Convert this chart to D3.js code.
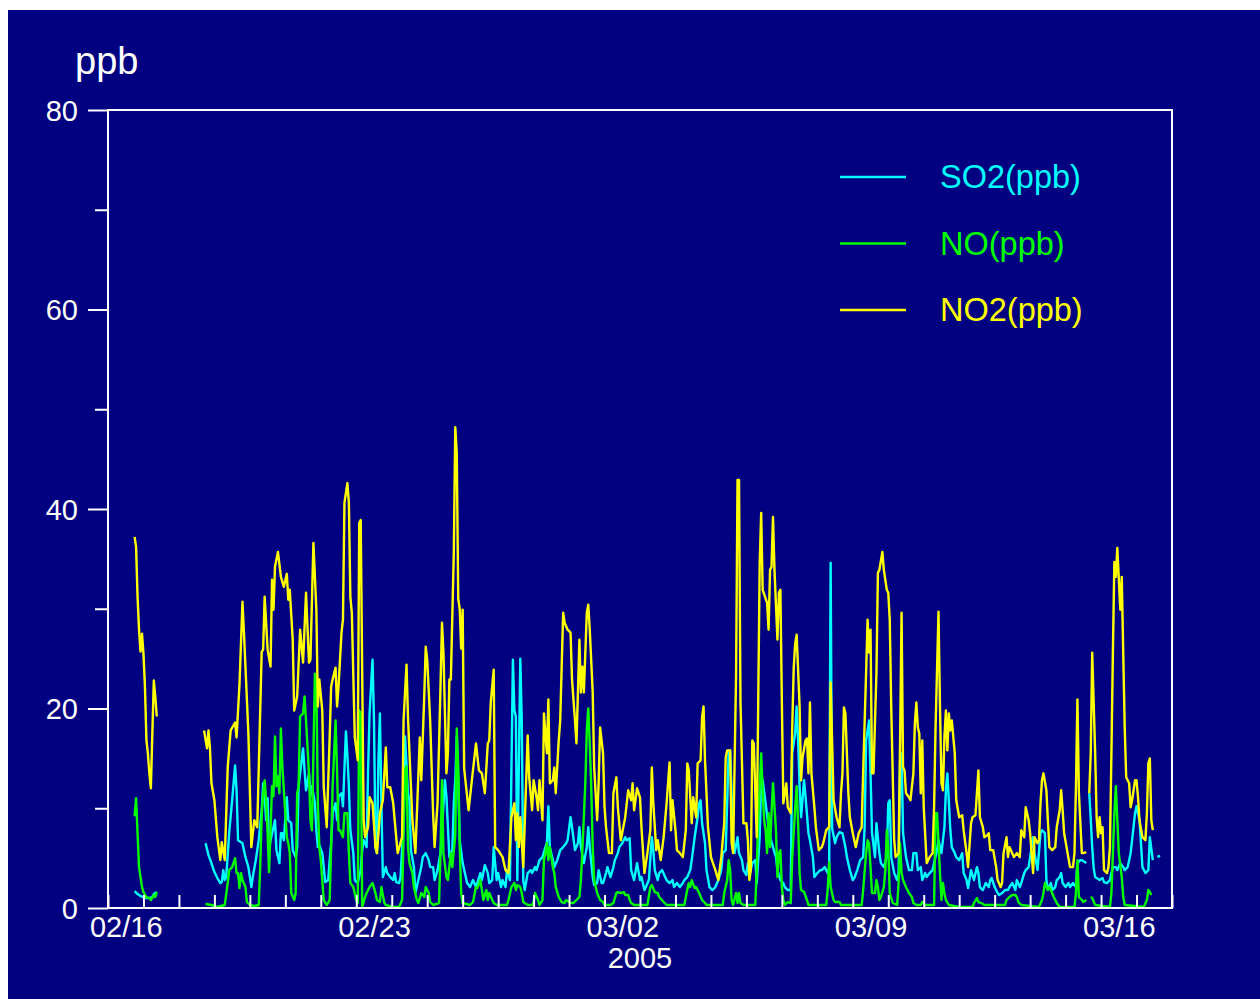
<!DOCTYPE html>
<html><head><meta charset="utf-8">
<script src="https://cdn.jsdelivr.net/npm/d3@7"></script>
<style>body{margin:0;background:#fff}svg{display:block}</style>
</head><body><svg id="chart" width="1260" height="999"></svg>
<script>
// ---- data (hours since 2005-02-16 00:00, value in ppb; null = missing) ----
const startDate = Date.UTC(2005, 1, 16, 0, 0);
const endDate = Date.UTC(2005, 2, 18, 0, 0);
const dateLabels = ["02/16", "02/23", "03/02", "03/09", "03/16"];
const labelDays = [0, 7, 14, 21, 28];
const yearLabel = "2005";
const yTicksMajor = [0, 20, 40, 60, 80];
const yTicksMinor = [10, 30, 50, 70];
const unitLabel = "ppb";
const seriesNames = ["SO2(ppb)", "NO(ppb)", "NO2(ppb)"];
const seriesColors = ["#00ffff", "#00ff00", "#ffff00"];

const so2 = [[18,1.7],[20,1.4],[22,1.2],[24,1.1],[26,1.0],[28,1.0],[30,1.1],[31,1.4],[33,1.6],[34,null],
[66,6.5],[68,5.3],[70,4.5],[72,3.6],[74,3.0],[76,2.5],[77,2.6],[78,3.8],[79,2.8],[80,3.1],[82,7.5],[84,10.8],[86,14.3],[87,11.8],[88,6.8],[90,6.6],[91,6.5],[93,5.1],[95,4.1],[97,2.1],[98,3.1],[100,4.8],[102,6.8],[104,9.8],[105,12.5],[106,11.2],[107,8.8],[108,11.0],[109,5.8],[110,6.8],[113,8.8],[114,5.8],[116,4.5],[117,7.5],[118,7.5],[119,6.8],[121,11.1],[122,8.8],[124,8.5],[125,5.8],[127,5.1],[128,6.1],[129,12.2],[130,13.5],[132,16.0],[133,13.8],[134,11.8],[136,13.5],[137,11.2],[138,12.2],[140,10.5],[141,7.8],[142,6.1],[143,6.3],[145,5.5],[146,4.1],[147,2.6],[149,2.8],[150,4.8],[151,6.5],[152,9.5],[154,10.5],[155,8.8],[156,11.2],[158,11.5],[159,10.2],[161,17.7],[162,15.2],[163,12.2],[164,7.8],[166,5.5],[167,2.8],[169,2.5],[171,3.8],[172,5.8],[173,6.8],[175,6.1],[176,13.8],[177,19.5],[179,24.9],[180,18.8],[181,6.1],[182,5.5],[183,14.8],[184,19.5],[185,10.5],[186,3.1],[188,4.1],[189,3.5],[191,3.1],[193,2.8],[194,3.5],[195,2.6],[197,2.5],[198,3.1],[200,8.8],[201,17.2],[203,11.5],[204,10.8],[205,5.8],[207,4.1],[208,1.5],[210,2.8],[212,4.1],[213,5.1],[215,5.5],[217,4.8],[218,4.1],[220,4.1],[221,2.8],[223,3.8],[225,5.5],[226,7.8],[228,12.8],[229,11.2],[231,5.1],[233,5.8],[234,10.5],[235,12.8],[236,17.2],[237,12.8],[238,6.8],[240,4.5],[243,2.5],[245,2.1],[247,2.8],[249,2.1],[252,3.5],[253,2.8],[255,4.3],[257,3.5],[258,2.5],[260,2.8],[261,6.1],[263,2.8],[264,3.5],[266,2.1],[267,2.8],[269,2.1],[270,3.8],[272,2.8],[273,13.8],[274,24.9],[275,19.8],[276,19.2],[277,2.8],[278,14.2],[279,25.0],[280,18.8],[281,2.8],[282,1.8],[284,3.5],[286,3.8],[287,3.5],[289,4.1],[290,3.8],[292,4.8],[294,5.1],[296,6.1],[297,6.5],[298,10.2],[299,6.1],[301,4.8],[302,4.1],[304,4.8],[306,5.8],[308,6.1],[310,6.5],[311,6.8],[313,9.1],[314,8.1],[316,5.8],[318,6.5],[319,8.1],[320,6.1],[322,4.5],[324,6.1],[325,8.1],[326,6.1],[328,3.1],[329,2.3],[331,2.5],[332,3.8],[334,2.5],[335,2.5],[337,3.5],[338,4.1],[340,3.1],[342,4.1],[343,4.8],[345,5.5],[346,6.1],[348,6.5],[350,7.1],[351,6.8],[353,7.0],[354,3.8],[356,2.8],[358,4.5],[360,2.8],[361,3.1],[363,1.8],[364,2.1],[366,2.8],[368,7.1],[369,5.8],[370,3.8],[372,2.8],[373,3.5],[375,3.8],[377,3.1],[378,2.8],[380,2.5],[382,2.8],[383,2.1],[385,2.5],[387,2.1],[389,2.5],[390,2.8],[392,3.1],[394,3.8],[395,4.8],[397,7.1],[399,9.1],[400,10.5],[401,10.8],[402,8.5],[404,6.5],[405,3.8],[407,2.1],[409,1.8],[411,2.1],[413,2.8],[415,3.8],[416,5.5],[418,5.8],[420,15.5],[421,15.8],[423,7.1],[424,5.5],[426,7.1],[427,5.5],[429,4.8],[430,3.8],[432,3.3],[433,4.5],[435,3.8],[436,4.5],[438,4.8],[439,2.5],[441,7.1],[442,13.2],[443,12.8],[445,10.5],[447,8.1],[448,7.1],[450,6.1],[452,5.1],[453,3.8],[455,2.8],[457,2.5],[458,2.1],[460,1.8],[462,1.8],[463,15.5],[465,17.5],[466,20.2],[467,16.8],[468,12.2],[469,9.1],[471,12.8],[472,11.2],[474,7.5],[475,6.8],[477,5.1],[478,3.1],[480,3.5],[482,3.8],[483,3.8],[485,4.1],[487,3.5],[488,4.0],[489,34.6],[490,8.0],[492,6.5],[493,7.1],[495,7.6],[497,7.5],[499,6.1],[500,5.1],[502,3.8],[504,2.8],[505,3.0],[507,3.8],[509,4.8],[511,5.1],[512,8.1],[513,16.8],[515,18.8],[516,13.5],[517,7.5],[519,5.1],[520,8.5],[522,5.5],[523,4.5],[525,4.1],[527,5.1],[528,10.5],[529,10.8],[530,5.1],[532,3.5],[534,2.8],[535,3.5],[536,14.5],[537,15.5],[538,7.5],[540,5.1],[542,3.8],[544,3.8],[545,5.5],[547,5.5],[548,3.8],[550,4.1],[551,2.8],[553,3.5],[554,3.1],[556,3.5],[558,3.8],[559,4.5],[561,5.8],[562,6.8],[564,5.5],[566,8.1],[567,11.8],[568,13.5],[570,7.8],[571,6.1],[573,5.5],[574,5.1],[576,4.8],[578,5.5],[579,3.5],[581,2.8],[582,2.0],[584,3.8],[586,2.8],[588,4.1],[589,3.5],[590,2.1],[592,1.8],[594,2.5],[596,2.1],[597,2.8],[598,3.0],[600,2.1],[602,1.5],[603,1.3],[605,1.5],[607,1.8],[609,1.8],[610,2.1],[612,2.5],[614,1.8],[615,2.8],[617,2.1],[618,2.5],[620,3.5],[621,3.8],[623,4.1],[624,5.1],[626,7.1],[627,5.5],[629,3.8],[631,7.5],[632,7.8],[634,7.5],[635,2.8],[636,1.8],[638,2.5],[639,1.8],[641,2.1],[642,2.8],[644,3.1],[645,3.5],[646,2.5],[648,2.1],[650,2.5],[651,2.1],[653,2.5],[655,2.1],[656,4.5],[658,4.8],[659,4.8],[662,4.5],[663,null],
[664,11.5],[665,9.0],[666,6.1],[667,4.0],[668,3.1],[671,2.8],[673,3.0],[674,2.6],[676,2.5],[678,2.8],[679,3.5],[680,4.1],[682,4.1],[683,3.8],[685,4.5],[687,4.1],[688,3.8],[690,4.1],[692,5.5],[693,6.8],[695,9.5],[696,10.2],[698,8.8],[699,6.5],[700,4.1],[702,3.5],[704,3.8],[705,7.1],[707,4.8],[708,null],[711,5.2]];

const no = [[18,9.2],[19,11.0],[20,7.5],[21,4.1],[23,2.1],[24,1.6],[26,1.1],[28,1.0],[29,0.8],[31,1.3],[32,1.1],[33,1.6],[34,null],
[66,0.4],[70,0.3],[74,0.1],[79,0.3],[81,2.5],[82,3.8],[84,4.1],[86,5.0],[87,3.5],[88,3.5],[89,2.0],[90,3.5],[91,2.8],[93,2.1],[94,0.6],[96,0.3],[99,0.2],[102,0.3],[103,4.1],[104,9.2],[105,11.5],[106,12.8],[107,10.8],[108,7.5],[109,3.6],[111,12.2],[112,11.2],[113,17.2],[114,12.2],[115,13.2],[116,11.5],[117,18.0],[118,14.2],[119,11.8],[121,7.1],[122,6.5],[123,5.5],[124,1.5],[126,0.8],[127,1.5],[128,11.5],[129,12.2],[130,19.2],[132,19.5],[133,21.2],[134,18.8],[136,13.5],[137,8.8],[138,7.8],[139,15.5],[140,23.5],[141,22.2],[142,10.5],[143,6.1],[144,4.8],[145,2.8],[146,0.8],[148,0.3],[150,0.8],[151,6.1],[152,12.2],[153,15.5],[154,18.8],[155,13.8],[156,7.8],[157,7.8],[159,7.1],[160,9.5],[162,9.5],[163,5.5],[164,2.5],[166,2.1],[168,0.8],[169,0.5],[170,19.8],[171,19.5],[172,0.1],[174,1.1],[175,1.5],[177,2.1],[179,2.5],[181,1.5],[182,0.8],[184,0.6],[185,2.1],[187,0.5],[188,0.3],[193,0.1],[197,0.1],[199,0.8],[201,13.8],[202,14.2],[203,6.1],[204,4.5],[206,3.5],[207,2.1],[209,0.8],[210,0.5],[212,1.5],[214,1.1],[215,2.1],[217,1.5],[218,0.6],[220,0.3],[224,0.5],[225,5.5],[226,12.8],[227,5.5],[229,3.1],[230,2.8],[232,5.5],[233,4.1],[235,7.3],[236,18.0],[237,14.2],[238,6.1],[239,1.5],[240,0.5],[245,0.3],[247,0.6],[249,2.1],[250,2.0],[252,2.8],[253,1.8],[254,0.8],[256,1.8],[257,0.8],[258,1.5],[260,0.8],[261,0.5],[263,0.3],[270,0.3],[271,0.8],[273,2.1],[275,2.5],[276,1.8],[277,2.3],[279,2.1],[280,1.5],[281,0.6],[284,0.3],[287,0.3],[288,0.6],[289,1.5],[291,0.8],[292,0.3],[294,0.8],[295,4.8],[296,5.5],[297,6.5],[298,4.8],[299,6.1],[301,4.1],[302,3.5],[303,2.1],[305,1.1],[307,0.6],[309,0.5],[310,0.8],[312,0.6],[314,0.5],[315,0.5],[317,0.8],[319,1.1],[320,2.8],[321,5.8],[323,12.5],[324,17.8],[325,20.0],[326,16.5],[327,12.2],[328,6.1],[329,2.8],[331,1.5],[333,0.8],[335,0.6],[336,0.3],[340,0.3],[342,0.5],[344,1.5],[345,1.6],[347,1.5],[349,1.6],[350,1.3],[352,1.3],[353,0.8],[354,0.5],[356,0.3],[365,0.3],[367,2.1],[368,2.3],[370,1.6],[372,1.5],[373,1.1],[376,0.6],[378,0.3],[390,0.3],[391,1.1],[393,2.5],[394,2.1],[395,2.8],[397,2.0],[398,2.1],[400,1.5],[402,0.8],[404,0.5],[405,0.3],[416,0.3],[417,1.5],[419,2.8],[420,4.8],[421,3.8],[422,0.8],[423,0.3],[425,1.5],[426,0.5],[427,1.5],[428,0.5],[430,0.3],[438,0.3],[439,3.8],[440,8.8],[442,15.5],[443,11.8],[444,8.8],[445,7.8],[446,5.5],[447,9.5],[448,6.1],[449,9.5],[450,12.5],[452,7.8],[453,3.1],[454,5.5],[455,5.8],[456,2.1],[457,0.8],[458,0.3],[460,0.6],[462,0.5],[463,5.0],[465,10.0],[466,12.2],[467,8.5],[468,3.5],[469,1.8],[471,1.6],[473,0.8],[474,0.3],[486,0.3],[487,1.8],[488,4.6],[489,2.1],[491,0.8],[492,0.6],[495,0.6],[496,0.3],[510,0.3],[511,1.8],[513,5.5],[514,6.8],[515,6.5],[516,4.1],[517,1.5],[519,1.5],[520,2.8],[521,2.1],[522,0.8],[523,1.1],[525,2.1],[526,3.8],[527,7.8],[528,6.1],[529,1.5],[531,0.5],[534,0.3],[535,2.5],[536,6.5],[537,3.5],[538,2.8],[540,2.1],[542,1.5],[544,1.1],[545,0.5],[547,0.3],[550,0.3],[551,0.6],[553,0.3],[559,0.3],[560,9.5],[561,9.5],[563,3.5],[564,0.8],[565,2.5],[566,1.5],[567,0.8],[569,0.3],[576,0.1],[585,0.1],[586,0.5],[588,1.0],[589,0.6],[591,0.5],[593,0.3],[607,0.3],[608,0.8],[610,1.1],[612,1.3],[614,1.3],[615,1.1],[616,0.6],[618,0.3],[630,0.1],[632,0.8],[633,1.5],[634,2.5],[636,1.8],[637,2.1],[638,1.8],[640,1.1],[642,0.5],[644,0.1],[654,0.1],[655,1.5],[656,4.8],[657,1.1],[659,0.8],[660,0.6],[662,0.8],[663,null],
[665,1.1],[666,1.0],[668,0.3],[678,0.1],[679,1.5],[680,5.5],[681,9.5],[682,12.2],[683,8.8],[684,5.5],[686,3.1],[687,1.1],[688,0.3],[701,0.1],[703,0.8],[704,1.8],[705,1.6],[706,1.3]];

const no2 = [[18,37.2],[19,36.2],[20,31.2],[21,27.9],[22,25.7],[23,27.5],[24,25.5],[25,22.2],[26,16.8],[27,15.5],[28,13.5],[29,12.0],[30,17.5],[31,22.8],[32,21.2],[33,19.2],[34,null],
[65,17.8],[67,16.0],[68,17.8],[69,16.0],[70,12.5],[72,10.8],[74,7.1],[76,4.8],[77,6.6],[79,4.8],[81,14.1],[83,17.8],[86,18.6],[87,17.1],[89,22.5],[91,30.7],[92,27.6],[95,17.5],[97,6.1],[99,8.8],[101,8.1],[104,25.7],[105,25.9],[106,31.2],[108,25.9],[110,24.2],[111,32.9],[112,29.9],[113,34.2],[115,35.7],[117,33.2],[119,32.2],[121,33.5],[122,30.9],[123,31.9],[125,26.9],[126,19.8],[128,21.2],[130,27.9],[132,24.6],[134,31.6],[136,24.6],[137,24.9],[139,36.6],[141,29.9],[142,20.2],[143,22.9],[145,19.8],[146,12.1],[148,8.1],[150,17.1],[151,22.2],[152,22.9],[154,24.1],[155,20.2],[156,22.2],[158,27.6],[159,28.9],[160,40.6],[162,42.6],[163,40.6],[164,31.2],[165,29.6],[167,17.1],[169,14.8],[170,38.6],[171,38.9],[173,8.8],[174,7.1],[176,8.1],[177,11.1],[179,10.5],[181,6.1],[182,5.5],[184,9.5],[186,10.8],[188,16.1],[189,12.1],[191,12.1],[193,10.5],[194,8.8],[196,5.5],[199,7.1],[200,18.8],[202,24.4],[203,19.1],[205,12.1],[206,8.8],[208,5.5],[211,17.1],[212,12.8],[214,21.2],[215,26.2],[216,24.9],[218,18.8],[220,9.5],[221,6.1],[223,10.5],[225,22.2],[226,28.6],[227,25.6],[229,13.5],[230,15.5],[231,22.9],[232,22.9],[234,35.6],[235,48.2],[236,45.6],[237,31.0],[238,30.0],[239,26.0],[240,29.9],[241,14.0],[244,9.8],[246,12.5],[249,16.5],[251,13.8],[253,13.5],[255,11.5],[257,16.5],[258,16.8],[259,20.6],[261,23.9],[262,6.1],[264,5.8],[267,5.1],[269,3.8],[271,3.5],[273,9.1],[275,10.5],[276,6.8],[277,9.5],[278,6.1],[279,9.1],[281,4.1],[282,8.5],[284,17.3],[285,13.1],[287,9.8],[288,12.8],[290,11.1],[291,9.8],[292,12.8],[294,8.8],[295,19.5],[297,15.5],[298,20.9],[299,12.5],[301,12.8],[302,14.1],[303,11.5],[305,16.8],[306,18.8],[308,29.6],[309,28.6],[311,27.9],[313,27.6],[314,22.9],[316,18.8],[317,16.5],[319,26.9],[320,21.6],[321,24.2],[322,21.6],[324,29.6],[325,30.4],[326,27.9],[328,21.6],[329,14.1],[331,8.8],[332,12.5],[333,18.1],[335,15.5],[336,10.1],[337,8.1],[339,5.5],[341,5.5],[342,11.5],[344,13.1],[345,10.1],[347,6.8],[350,9.1],[352,11.8],[354,10.8],[355,12.5],[356,9.8],[358,12.0],[360,11.1],[361,8.1],[363,3.5],[365,5.5],[367,7.8],[368,14.1],[369,10.5],[371,5.8],[372,6.8],[374,4.8],[376,7.1],[378,10.5],[380,14.6],[381,7.8],[382,10.8],[384,7.8],[385,5.8],[387,5.5],[389,5.1],[391,7.8],[392,14.5],[393,13.8],[395,8.5],[396,11.1],[398,9.1],[399,14.5],[401,14.8],[402,19.1],[403,20.2],[404,14.8],[406,8.1],[408,5.1],[411,3.8],[413,2.8],[415,5.1],[417,8.5],[418,15.1],[419,15.8],[421,15.8],[422,6.5],[423,5.5],[425,23.2],[426,42.9],[427,42.9],[428,20.6],[430,8.5],[432,8.5],[433,6.8],[434,2.8],[435,3.8],[436,16.8],[437,16.5],[439,7.1],[440,20.6],[441,34.6],[442,39.6],[443,31.9],[446,30.6],[447,27.9],[448,33.9],[449,34.2],[450,39.2],[451,33.9],[453,26.9],[454,31.6],[455,31.9],[456,20.6],[457,10.5],[459,12.5],[460,10.1],[462,9.5],[463,18.0],[464,24.0],[465,26.5],[466,27.4],[468,20.2],[469,12.8],[470,15.1],[472,16.8],[473,17.0],[474,13.5],[475,20.6],[476,13.5],[478,10.1],[479,8.1],[481,5.8],[483,6.1],[484,6.5],[486,7.8],[488,8.1],[489,22.6],[491,10.8],[493,9.1],[495,8.1],[496,11.5],[497,13.5],[498,20.1],[499,19.5],[501,11.5],[502,9.1],[504,7.5],[506,6.1],[508,7.5],[510,8.1],[511,13.5],[513,23.6],[514,28.9],[515,25.6],[516,27.9],[517,13.5],[518,13.5],[520,23.6],[521,33.6],[522,33.9],[524,35.7],[525,33.9],[527,31.9],[528,31.6],[529,28.9],[530,20.2],[532,6.8],[533,5.1],[535,5.5],[536,16.8],[537,29.6],[538,14.1],[539,13.8],[540,11.5],[542,11.1],[543,10.8],[545,13.5],[546,18.5],[547,20.6],[548,18.1],[549,17.5],[550,11.5],[551,16.8],[552,10.1],[554,4.5],[556,5.1],[558,5.5],[559,10.1],[560,18.1],[562,29.7],[563,20.2],[564,12.5],[565,11.8],[566,17.1],[567,19.8],[568,15.8],[569,19.5],[570,17.8],[571,18.8],[573,15.5],[574,10.8],[576,9.1],[578,9.3],[579,7.8],[581,5.5],[582,4.1],[584,8.5],[585,9.1],[587,9.3],[589,13.8],[590,9.1],[592,8.1],[593,7.1],[595,7.3],[596,7.5],[597,5.8],[599,5.8],[601,4.1],[602,2.8],[604,2.1],[605,2.5],[606,5.5],[608,7.1],[609,5.1],[610,6.1],[611,5.8],[613,5.1],[615,5.5],[617,5.1],[618,7.8],[620,7.1],[621,10.1],[623,8.8],[624,7.5],[625,5.5],[626,3.5],[627,7.1],[629,6.5],[630,6.8],[631,10.5],[632,12.8],[633,13.5],[635,11.8],[636,8.8],[637,6.1],[639,5.8],[641,6.1],[642,8.1],[644,9.8],[645,11.8],[646,9.8],[647,7.5],[649,5.8],[651,4.1],[653,4.1],[654,5.5],[655,12.1],[656,20.9],[657,11.5],[659,5.5],[660,5.5],[662,5.6],[663,null],
[664,11.5],[665,15.5],[666,25.6],[668,15.5],[669,9.1],[670,7.1],[671,9.1],[672,7.5],[673,8.1],[674,3.8],[676,3.5],[677,4.1],[678,6.1],[679,15.5],[680,25.6],[681,34.7],[682,33.2],[683,36.1],[685,29.9],[686,33.2],[687,25.6],[688,18.1],[689,13.1],[690,12.8],[691,12.5],[692,10.1],[693,10.8],[695,12.8],[696,12.8],[697,11.1],[698,8.8],[700,7.1],[702,6.8],[703,9.5],[704,14.5],[705,15.0],[706,8.8],[707,7.8]];

const seriesData = [so2, no, no2];

// ---- drawing ----
const W = 1260, H = 999;
const plot = {left: 108, right: 1172, top: 110, bottom: 908};
const font = "'Liberation Sans', Arial, Helvetica, sans-serif";
const svg = d3.select("#chart");

svg.append("rect").attr("x", 8).attr("y", 10).attr("width", W - 8).attr("height", H - 10).attr("fill", "#000080");

const x = d3.scaleUtc().domain([new Date(startDate), new Date(endDate)]).range([plot.left, plot.right]);
const y = d3.scaleLinear().domain([0, 80]).range([plot.bottom, plot.top]);
const toDate = h => new Date(startDate + h * 3600000);

// lines
const line = d3.line()
  .defined(d => d[1] !== null)
  .x(d => x(toDate(d[0])))
  .y(d => y(d[1]));

seriesData.forEach((data, i) => {
  svg.append("path").datum(data)
    .attr("fill", "none").attr("stroke", seriesColors[i])
    .attr("stroke-width", 2.4).attr("stroke-linejoin", "round")
    .attr("d", line);
  // isolated points (no defined neighbours)
  const iso = data.filter((d, k) => d[1] !== null &&
    (k === 0 || data[k - 1][1] === null) && (k === data.length - 1 || data[k + 1][1] === null));
  svg.selectAll(null).data(iso).enter().append("circle")
    .attr("cx", d => x(toDate(d[0]))).attr("cy", d => y(d[1])).attr("r", 1.5)
    .attr("fill", seriesColors[i]);
});

// frame
svg.append("rect").attr("x", plot.left).attr("y", plot.top)
  .attr("width", plot.right - plot.left).attr("height", plot.bottom - plot.top)
  .attr("fill", "none").attr("stroke", "#fff").attr("stroke-width", 2);

// y axis (major with labels, minor without)
const yMajor = svg.append("g").attr("transform", `translate(${plot.left},0)`)
  .call(d3.axisLeft(y).tickValues(yTicksMajor).tickSize(20).tickPadding(10).tickFormat(d3.format("d")));
const yMinor = svg.append("g").attr("transform", `translate(${plot.left},0)`)
  .call(d3.axisLeft(y).tickValues(yTicksMinor).tickSize(13).tickFormat(""));
[yMajor, yMinor].forEach(g => {
  g.select(".domain").remove();
  g.selectAll(".tick line").attr("stroke", "#fff").attr("stroke-width", 2);
});
yMajor.selectAll(".tick text").attr("fill", "#fff").style("font-family", font).style("font-size", "29px")
  .attr("dy", "0.36em");

// x axis: daily ticks inward
const days = d3.utcDay.range(new Date(startDate), new Date(endDate + 1));
const xTicks = svg.append("g").attr("transform", `translate(0,${plot.bottom})`)
  .call(d3.axisBottom(x).tickValues(days).tickSize(-13).tickFormat(""));
xTicks.select(".domain").remove();
xTicks.selectAll(".tick line").attr("stroke", "#fff").attr("stroke-width", 2);

// x labels at noon of labelled days
const labelTimes = labelDays.map(d => new Date(startDate + (d + 0.5) * 86400000));
const xLab = svg.append("g").attr("transform", `translate(0,${plot.bottom})`)
  .call(d3.axisBottom(x).tickValues(labelTimes).tickSize(0).tickPadding(8)
    .tickFormat((d, i) => dateLabels[i]));
xLab.select(".domain").remove();
xLab.selectAll(".tick text").attr("fill", "#fff").style("font-family", font).style("font-size", "29px");

svg.append("text").attr("x", (plot.left + plot.right) / 2).attr("y", 968)
  .attr("text-anchor", "middle").attr("fill", "#fff")
  .style("font-family", font).style("font-size", "29px").text(yearLabel);

svg.append("text").attr("x", 75).attr("y", 74).attr("fill", "#fff")
  .style("font-family", font).style("font-size", "38px").text(unitLabel);

// legend
const legend = svg.append("g");
seriesNames.forEach((name, i) => {
  const ly = 177 + i * 66.5;
  legend.append("line").attr("x1", 840).attr("x2", 906).attr("y1", ly).attr("y2", ly)
    .attr("stroke", seriesColors[i]).attr("stroke-width", 2.4);
  legend.append("text").attr("x", 940).attr("y", ly).attr("dy", "0.35em")
    .attr("fill", seriesColors[i]).style("font-family", font).style("font-size", "32.5px").text(name);
});
</script>
</body></html>
